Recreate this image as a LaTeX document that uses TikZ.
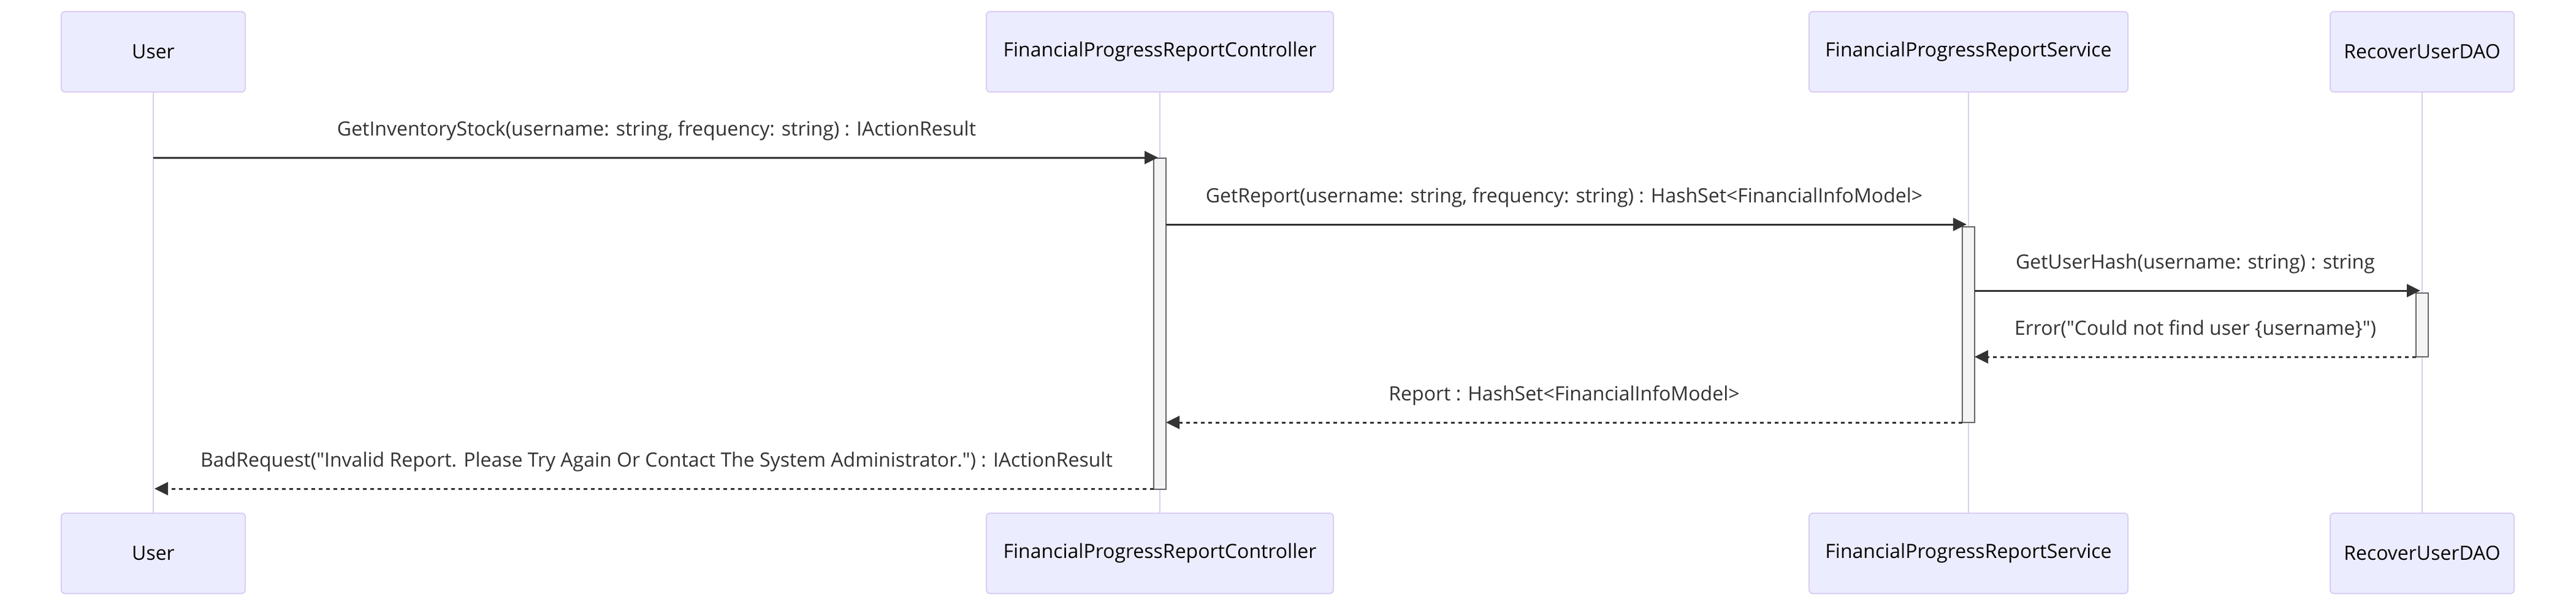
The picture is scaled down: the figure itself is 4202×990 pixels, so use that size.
\documentclass[tikz,border=0pt]{standalone}
\usepackage{fontspec}
\newfontfamily\osans{Open Sans}
\usetikzlibrary{arrows.meta}
\definecolor{actfill}{HTML}{ECECFF}
\definecolor{actline}{HTML}{DACEF3}
\definecolor{sig}{HTML}{333333}
\definecolor{barfill}{HTML}{F4F4F4}
\definecolor{barline}{HTML}{666666}
\begin{document}
\begin{tikzpicture}[x=0.5pt,y=-0.5pt,
  actor/.style={draw=actline, fill=actfill, line width=1pt, rounded corners=3pt,
    minimum height=65.5pt, inner sep=0pt, text=black,
    font=\osans\fontsize{16pt}{19pt}\selectfont},
  lifeline/.style={draw=actline, line width=1pt},
  actbar/.style={draw=barline, fill=barfill, line width=1pt, minimum width=10pt, inner sep=0pt},
  msg/.style={draw=sig, line width=1.5pt, -{Triangle[length=11pt,width=10.5pt]}},
  reply/.style={msg, dash pattern=on 3pt off 3pt},
  lbl/.style={anchor=base, text=sig, inner sep=0pt, font=\osans\fontsize{16pt}{19pt}\selectfont}]
\useasboundingbox (0,0) rectangle (4202,990);
% actors top
\node[actor, minimum width=150pt] (u1) at (250,84.5) {User};
\node[actor, minimum width=283pt] (c1) at (1892,84.5) {FinancialProgressReportController};
\node[actor, minimum width=260pt] (s1) at (3211,84.5) {FinancialProgressReportService};
\node[actor, minimum width=150pt] (d1) at (3951,84.5) {RecoverUserDAO};
% actors bottom
\node[actor, minimum width=150pt] (u2) at (250,902.5) {User};
\node[actor, minimum width=283pt] (c2) at (1892,902.5) {FinancialProgressReportController};
\node[actor, minimum width=260pt] (s2) at (3211,902.5) {FinancialProgressReportService};
\node[actor, minimum width=150pt] (d2) at (3951,902.5) {RecoverUserDAO};
% lifelines
\draw[lifeline] (u1.south) -- (u2.north);
\draw[lifeline] (c1.south) -- (c2.north);
\draw[lifeline] (s1.south) -- (s2.north);
\draw[lifeline] (d1.south) -- (d2.north);
% activation bars
\node[actbar, minimum height=270pt] (cb) at (1892,527.5) {};
\node[actbar, minimum height=159.5pt] (sb) at (3211,529.5) {};
\node[actbar, minimum height=52pt] (db) at (3951,530) {};
% message end points
\coordinate (m1a) at (250,257);  \coordinate (m1b) at (1889,257);
\coordinate (m2a) at (1902,366); \coordinate (m2b) at (3208,366);
\coordinate (m3a) at (3221,474); \coordinate (m3b) at (3948,474);
\coordinate (m4a) at (3941,582); \coordinate (m4b) at (3221,582);
\coordinate (m5a) at (3201,689); \coordinate (m5b) at (1902,689);
\coordinate (m6a) at (1882,797); \coordinate (m6b) at (252,797);
% messages
\draw[msg] (m1a) -- (m1b);
\draw[msg] (m2a) -- (m2b);
\draw[msg] (m3a) -- (m3b);
\draw[reply] (m4a) -- (m4b);
\draw[reply] (m5a) -- (m5b);
\draw[reply] (m6a) -- (m6b);
% labels
\node[lbl] (l1) at (1071,221) {GetInventoryStock(username: string, frequency: string) : IActionResult};
\node[lbl] (l2) at (2551.5,330) {GetReport(username: string, frequency: string) : HashSet<FinancialInfoModel>};
\node[lbl] (l3) at (3581,438) {GetUserHash(username: string) : string};
\node[lbl] (l4) at (3581,546) {Error("Could not find user \{username\}")};
\node[lbl] (l5) at (2551.5,653) {Report : HashSet<FinancialInfoModel>};
\node[lbl] (l6) at (1071,761) {BadRequest("Invalid Report. Please Try Again Or Contact The System Administrator.") : IActionResult};
\end{tikzpicture}
\end{document}
